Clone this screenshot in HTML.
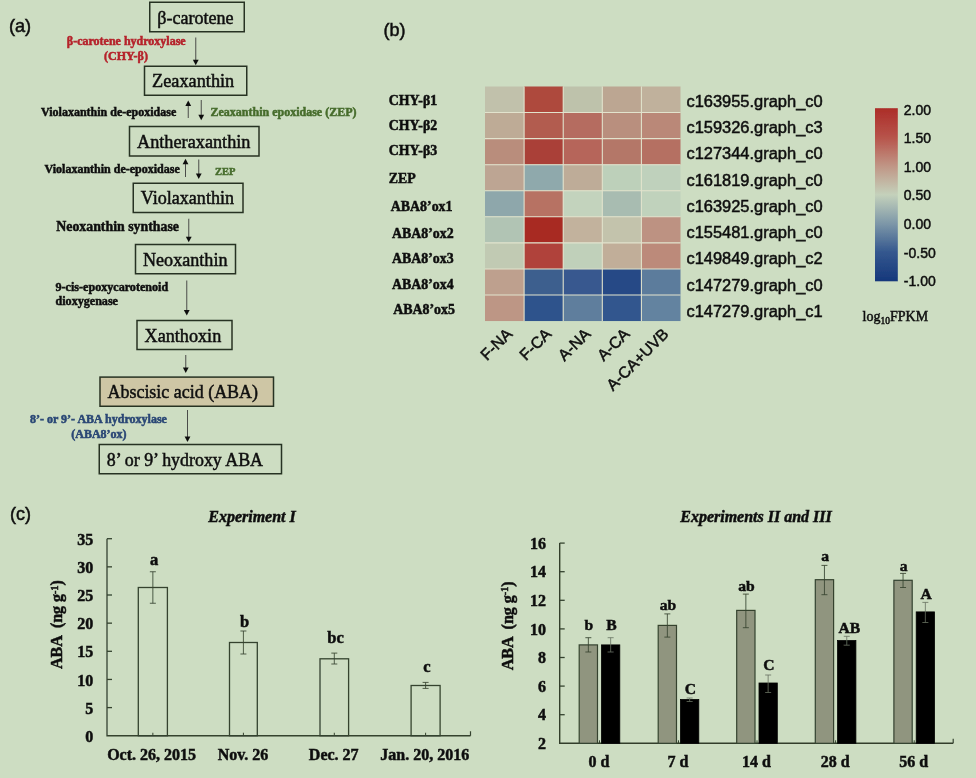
<!DOCTYPE html>
<html><head><meta charset="utf-8"><title>Figure</title>
<style>
html,body{margin:0;padding:0;background:#cdddc2;}
body{width:976px;height:778px;overflow:hidden;}
svg{display:block;}
.s{font-family:"Liberation Serif",serif;}
.h{font-family:"Liberation Sans",sans-serif;}
.b{font-weight:bold;stroke-width:0.5px;}
text{stroke-width:0.5px;paint-order:stroke;}
.i{font-style:italic;}
</style></head><body>
<svg width="976" height="778" viewBox="0 0 976 778">
<defs>
<linearGradient id="cb" x1="0" y1="0" x2="0" y2="1">
<stop offset="0" stop-color="#ac2d28"/>
<stop offset="0.167" stop-color="#b7534a"/>
<stop offset="0.333" stop-color="#c09585"/>
<stop offset="0.5" stop-color="#c4d1bb"/>
<stop offset="0.667" stop-color="#7d97a8"/>
<stop offset="0.833" stop-color="#34578e"/>
<stop offset="1" stop-color="#15377b"/>
</linearGradient>
<filter id="bl" x="-5%" y="-5%" width="110%" height="110%"><feGaussianBlur stdDeviation="0.45"/></filter>
</defs>
<rect width="976" height="778" fill="#cdddc2"/>
<g filter="url(#bl)">

<text transform="translate(8.9,32) scale(1,1.0)" font-size="18.2" class="h" fill="#111" stroke="#111" text-anchor="start" >(a)</text>
<rect x="149.75" y="2.25" width="94.50" height="29.50" fill="none" stroke="#283322" stroke-width="1.5"/>
<text transform="translate(157.25,23.6) scale(1,1.0)" font-size="18" class="s" fill="#111" stroke="#111" text-anchor="start" textLength="76.25" lengthAdjust="spacingAndGlyphs">β-carotene</text>
<rect x="144.5" y="66.25" width="102.25" height="29.00" fill="none" stroke="#283322" stroke-width="1.5"/>
<text transform="translate(152.0,87.35) scale(1,1.0)" font-size="18" class="s" fill="#111" stroke="#111" text-anchor="start" textLength="82.25" lengthAdjust="spacingAndGlyphs">Zeaxanthin</text>
<rect x="129.5" y="126.5" width="129.50" height="29.50" fill="none" stroke="#283322" stroke-width="1.5"/>
<text transform="translate(137.0,147.85) scale(1,1.0)" font-size="18" class="s" fill="#111" stroke="#111" text-anchor="start" textLength="113.5" lengthAdjust="spacingAndGlyphs">Antheraxanthin</text>
<rect x="133.25" y="183.25" width="109.75" height="29.25" fill="none" stroke="#283322" stroke-width="1.5"/>
<text transform="translate(140.75,204.475) scale(1,1.0)" font-size="18" class="s" fill="#111" stroke="#111" text-anchor="start" textLength="93.25" lengthAdjust="spacingAndGlyphs">Violaxanthin</text>
<rect x="135.5" y="244.5" width="100.00" height="29.25" fill="none" stroke="#283322" stroke-width="1.5"/>
<text transform="translate(143.0,265.725) scale(1,1.0)" font-size="18" class="s" fill="#111" stroke="#111" text-anchor="start" textLength="84.5" lengthAdjust="spacingAndGlyphs">Neoxanthin</text>
<rect x="137" y="320.5" width="95.00" height="29.00" fill="none" stroke="#283322" stroke-width="1.5"/>
<text transform="translate(144.5,341.6) scale(1,1.0)" font-size="18" class="s" fill="#111" stroke="#111" text-anchor="start" textLength="76.75" lengthAdjust="spacingAndGlyphs">Xanthoxin</text>
<rect x="100" y="377.1" width="173.50" height="29.15" fill="#cec6a5" stroke="#283322" stroke-width="1.5"/>
<text transform="translate(107.5,398.27500000000003) scale(1,1.0)" font-size="18" class="s" fill="#111" stroke="#111" text-anchor="start" textLength="150.5" lengthAdjust="spacingAndGlyphs">Abscisic acid (ABA)</text>
<rect x="99.25" y="444.5" width="182.25" height="29.25" fill="none" stroke="#283322" stroke-width="1.5"/>
<text transform="translate(106.75,465.725) scale(1,1.0)" font-size="18" class="s" fill="#111" stroke="#111" text-anchor="start" textLength="156.25" lengthAdjust="spacingAndGlyphs">8’ or 9’ hydroxy ABA</text>
<line x1="195.75" y1="37.5" x2="195.75" y2="60.8" stroke="#3c3c3c" stroke-width="0.9"/>
<polygon points="192.85,59.8 198.65,59.8 195.75,65.3" fill="#111"/>
<line x1="188.25" y1="105.0" x2="188.25" y2="118" stroke="#3c3c3c" stroke-width="0.9"/>
<polygon points="185.35,106.0 191.15,106.0 188.25,100.5" fill="#111"/>
<line x1="201.25" y1="100" x2="201.25" y2="115.8" stroke="#3c3c3c" stroke-width="0.9"/>
<polygon points="198.35,114.8 204.15,114.8 201.25,120.3" fill="#111"/>
<line x1="185.5" y1="163.25" x2="185.5" y2="177" stroke="#3c3c3c" stroke-width="0.9"/>
<polygon points="182.6,164.25 188.4,164.25 185.5,158.75" fill="#111"/>
<line x1="198.75" y1="159.5" x2="198.75" y2="174.5" stroke="#3c3c3c" stroke-width="0.9"/>
<polygon points="195.85,173.5 201.65,173.5 198.75,179" fill="#111"/>
<line x1="188.75" y1="218.75" x2="188.75" y2="237.7" stroke="#3c3c3c" stroke-width="0.9"/>
<polygon points="185.85,236.7 191.65,236.7 188.75,242.2" fill="#111"/>
<line x1="186.75" y1="280.5" x2="186.75" y2="311.1" stroke="#3c3c3c" stroke-width="0.9"/>
<polygon points="183.85,310.1 189.65,310.1 186.75,315.6" fill="#111"/>
<line x1="185.75" y1="355" x2="185.75" y2="368.5" stroke="#3c3c3c" stroke-width="0.9"/>
<polygon points="182.85,367.5 188.65,367.5 185.75,373" fill="#111"/>
<line x1="187.5" y1="410" x2="187.5" y2="437.4" stroke="#3c3c3c" stroke-width="0.9"/>
<polygon points="184.6,436.4 190.4,436.4 187.5,441.9" fill="#111"/>
<text transform="translate(126.25,44.5) scale(1,1.0)" font-size="12" class="s b" fill="#b5212a" stroke="#b5212a" text-anchor="middle" >β-carotene hydroxylase</text>
<text transform="translate(126,59.5) scale(1,1.0)" font-size="12" class="s b" fill="#b5212a" stroke="#b5212a" text-anchor="middle" >(CHY-β)</text>
<text transform="translate(41,115.5) scale(1,1.0)" font-size="12" class="s b" fill="#111" stroke="#111" text-anchor="start" >Violaxanthin de-epoxidase</text>
<text transform="translate(210.5,115.5) scale(1,1.0)" font-size="12" class="s b" fill="#466c2c" stroke="#466c2c" text-anchor="start" >Zeaxanthin epoxidase (ZEP)</text>
<text transform="translate(44.5,172.5) scale(1,1.0)" font-size="12" class="s b" fill="#111" stroke="#111" text-anchor="start" >Violaxanthin de-epoxidase</text>
<text transform="translate(215,175) scale(1,1.0)" font-size="10.5" class="s b" fill="#466c2c" stroke="#466c2c" text-anchor="start" >ZEP</text>
<text transform="translate(56.25,230.75) scale(1,1.0)" font-size="13.85" class="s b" fill="#111" stroke="#111" text-anchor="start" >Neoxanthin synthase</text>
<text transform="translate(55.5,291.2) scale(1,1.0)" font-size="12.1" class="s b" fill="#111" stroke="#111" text-anchor="start" >9-cis-epoxycarotenoid</text>
<text transform="translate(55.5,305.4) scale(1,1.0)" font-size="12.1" class="s b" fill="#111" stroke="#111" text-anchor="start" >dioxygenase</text>
<text transform="translate(30,423) scale(1,1.0)" font-size="12" class="s b" fill="#2a4775" stroke="#2a4775" text-anchor="start" >8’- or 9’- ABA hydroxylase</text>
<text transform="translate(71.25,438) scale(1,1.0)" font-size="12" class="s b" fill="#2a4775" stroke="#2a4775" text-anchor="start" >(ABA8’ox)</text>
<text transform="translate(383.5,36) scale(1,1.0)" font-size="18" class="h" fill="#111" stroke="#111" text-anchor="start" >(b)</text>
<rect x="485.00" y="86.50" width="39.10" height="26.06" fill="#c1c1ab"/>
<rect x="524.10" y="86.50" width="39.10" height="26.06" fill="#ae483d"/>
<rect x="563.20" y="86.50" width="39.10" height="26.06" fill="#bec2ab"/>
<rect x="602.30" y="86.50" width="39.10" height="26.06" fill="#bca692"/>
<rect x="641.40" y="86.50" width="39.10" height="26.06" fill="#c0b19c"/>
<rect x="485.00" y="112.56" width="39.10" height="26.06" fill="#beab96"/>
<rect x="524.10" y="112.56" width="39.10" height="26.06" fill="#b25b50"/>
<rect x="563.20" y="112.56" width="39.10" height="26.06" fill="#b56c60"/>
<rect x="602.30" y="112.56" width="39.10" height="26.06" fill="#b98f7e"/>
<rect x="641.40" y="112.56" width="39.10" height="26.06" fill="#ba8878"/>
<rect x="485.00" y="138.62" width="39.10" height="26.06" fill="#b98d7c"/>
<rect x="524.10" y="138.62" width="39.10" height="26.06" fill="#aa3f38"/>
<rect x="563.20" y="138.62" width="39.10" height="26.06" fill="#b6655a"/>
<rect x="602.30" y="138.62" width="39.10" height="26.06" fill="#b47767"/>
<rect x="641.40" y="138.62" width="39.10" height="26.06" fill="#b56f62"/>
<rect x="485.00" y="164.68" width="39.10" height="26.06" fill="#bda593"/>
<rect x="524.10" y="164.68" width="39.10" height="26.06" fill="#8fa9ac"/>
<rect x="563.20" y="164.68" width="39.10" height="26.06" fill="#beac98"/>
<rect x="602.30" y="164.68" width="39.10" height="26.06" fill="#bdd0ba"/>
<rect x="641.40" y="164.68" width="39.10" height="26.06" fill="#bfd1bc"/>
<rect x="485.00" y="190.74" width="39.10" height="26.06" fill="#8ea7ab"/>
<rect x="524.10" y="190.74" width="39.10" height="26.06" fill="#b77264"/>
<rect x="563.20" y="190.74" width="39.10" height="26.06" fill="#c3d3bd"/>
<rect x="602.30" y="190.74" width="39.10" height="26.06" fill="#a8bcb1"/>
<rect x="641.40" y="190.74" width="39.10" height="26.06" fill="#c0d2bc"/>
<rect x="485.00" y="216.80" width="39.10" height="26.06" fill="#b1c4b4"/>
<rect x="524.10" y="216.80" width="39.10" height="26.06" fill="#a82a24"/>
<rect x="563.20" y="216.80" width="39.10" height="26.06" fill="#c2b29d"/>
<rect x="602.30" y="216.80" width="39.10" height="26.06" fill="#c3c3ac"/>
<rect x="641.40" y="216.80" width="39.10" height="26.06" fill="#bd9282"/>
<rect x="485.00" y="242.86" width="39.10" height="26.06" fill="#c1cab3"/>
<rect x="524.10" y="242.86" width="39.10" height="26.06" fill="#b0433a"/>
<rect x="563.20" y="242.86" width="39.10" height="26.06" fill="#c0d0ba"/>
<rect x="602.30" y="242.86" width="39.10" height="26.06" fill="#c1ae99"/>
<rect x="641.40" y="242.86" width="39.10" height="26.06" fill="#bc8a7a"/>
<rect x="485.00" y="268.92" width="39.10" height="26.06" fill="#bea08e"/>
<rect x="524.10" y="268.92" width="39.10" height="26.06" fill="#3d5f8e"/>
<rect x="563.20" y="268.92" width="39.10" height="26.06" fill="#39598f"/>
<rect x="602.30" y="268.92" width="39.10" height="26.06" fill="#254a86"/>
<rect x="641.40" y="268.92" width="39.10" height="26.06" fill="#5c7b9c"/>
<rect x="485.00" y="294.98" width="39.10" height="26.06" fill="#bd9685"/>
<rect x="524.10" y="294.98" width="39.10" height="26.06" fill="#2f538c"/>
<rect x="563.20" y="294.98" width="39.10" height="26.06" fill="#5f7e9d"/>
<rect x="602.30" y="294.98" width="39.10" height="26.06" fill="#33568e"/>
<rect x="641.40" y="294.98" width="39.10" height="26.06" fill="#6483a0"/>
<line x1="485.0" y1="112.56" x2="680.50" y2="112.56" stroke="#e2e3cd" stroke-width="1.05"/>
<line x1="485.0" y1="138.62" x2="680.50" y2="138.62" stroke="#e2e3cd" stroke-width="1.05"/>
<line x1="485.0" y1="164.68" x2="680.50" y2="164.68" stroke="#e2e3cd" stroke-width="1.05"/>
<line x1="485.0" y1="190.74" x2="680.50" y2="190.74" stroke="#e2e3cd" stroke-width="1.05"/>
<line x1="485.0" y1="216.80" x2="680.50" y2="216.80" stroke="#e2e3cd" stroke-width="1.05"/>
<line x1="485.0" y1="242.86" x2="680.50" y2="242.86" stroke="#e2e3cd" stroke-width="1.05"/>
<line x1="485.0" y1="268.92" x2="680.50" y2="268.92" stroke="#e2e3cd" stroke-width="1.05"/>
<line x1="485.0" y1="294.98" x2="680.50" y2="294.98" stroke="#e2e3cd" stroke-width="1.05"/>
<line x1="524.10" y1="86.5" x2="524.10" y2="321.04" stroke="#e2e3cd" stroke-width="1.05"/>
<line x1="563.20" y1="86.5" x2="563.20" y2="321.04" stroke="#e2e3cd" stroke-width="1.05"/>
<line x1="602.30" y1="86.5" x2="602.30" y2="321.04" stroke="#e2e3cd" stroke-width="1.05"/>
<line x1="641.40" y1="86.5" x2="641.40" y2="321.04" stroke="#e2e3cd" stroke-width="1.05"/>
<text transform="translate(388.8,104.7) scale(1,1.09)" font-size="13.9" class="s b" fill="#111" stroke="#111" text-anchor="start" >CHY-β1</text>
<text transform="translate(388.8,130.4) scale(1,1.09)" font-size="13.9" class="s b" fill="#111" stroke="#111" text-anchor="start" >CHY-β2</text>
<text transform="translate(388.8,155.0) scale(1,1.09)" font-size="13.9" class="s b" fill="#111" stroke="#111" text-anchor="start" >CHY-β3</text>
<text transform="translate(388.8,182.8) scale(1,1.09)" font-size="13.9" class="s b" fill="#111" stroke="#111" text-anchor="start" >ZEP</text>
<text transform="translate(390.8,210.9) scale(1,1.09)" font-size="13.9" class="s b" fill="#111" stroke="#111" text-anchor="start" >ABA8’ox1</text>
<text transform="translate(392,238.3) scale(1,1.09)" font-size="13.9" class="s b" fill="#111" stroke="#111" text-anchor="start" >ABA8’ox2</text>
<text transform="translate(392,262.8) scale(1,1.09)" font-size="13.9" class="s b" fill="#111" stroke="#111" text-anchor="start" >ABA8’ox3</text>
<text transform="translate(392,288.90000000000003) scale(1,1.09)" font-size="13.9" class="s b" fill="#111" stroke="#111" text-anchor="start" >ABA8’ox4</text>
<text transform="translate(393.2,314.2) scale(1,1.09)" font-size="13.9" class="s b" fill="#111" stroke="#111" text-anchor="start" >ABA8’ox5</text>
<text transform="translate(686.4,107.0) scale(1,1.0)" font-size="15.8" class="h" fill="#111" stroke="#111" text-anchor="start" textLength="136.3" lengthAdjust="spacingAndGlyphs">c163955.graph_c0</text>
<text transform="translate(686.4,133.22) scale(1,1.0)" font-size="15.8" class="h" fill="#111" stroke="#111" text-anchor="start" textLength="136.3" lengthAdjust="spacingAndGlyphs">c159326.graph_c3</text>
<text transform="translate(686.4,159.44) scale(1,1.0)" font-size="15.8" class="h" fill="#111" stroke="#111" text-anchor="start" textLength="136.3" lengthAdjust="spacingAndGlyphs">c127344.graph_c0</text>
<text transform="translate(686.4,185.66) scale(1,1.0)" font-size="15.8" class="h" fill="#111" stroke="#111" text-anchor="start" textLength="136.3" lengthAdjust="spacingAndGlyphs">c161819.graph_c0</text>
<text transform="translate(686.4,211.88) scale(1,1.0)" font-size="15.8" class="h" fill="#111" stroke="#111" text-anchor="start" textLength="136.3" lengthAdjust="spacingAndGlyphs">c163925.graph_c0</text>
<text transform="translate(686.4,238.1) scale(1,1.0)" font-size="15.8" class="h" fill="#111" stroke="#111" text-anchor="start" textLength="136.3" lengthAdjust="spacingAndGlyphs">c155481.graph_c0</text>
<text transform="translate(686.4,264.32) scale(1,1.0)" font-size="15.8" class="h" fill="#111" stroke="#111" text-anchor="start" textLength="136.3" lengthAdjust="spacingAndGlyphs">c149849.graph_c2</text>
<text transform="translate(686.4,290.53999999999996) scale(1,1.0)" font-size="15.8" class="h" fill="#111" stroke="#111" text-anchor="start" textLength="136.3" lengthAdjust="spacingAndGlyphs">c147279.graph_c0</text>
<text transform="translate(686.4,316.76) scale(1,1.0)" font-size="15.8" class="h" fill="#111" stroke="#111" text-anchor="start" textLength="136.3" lengthAdjust="spacingAndGlyphs">c147279.graph_c1</text>
<text transform="translate(513.2,335) rotate(-45)" font-size="15.9" class="h" fill="#111" stroke="#111" text-anchor="end">F-NA</text>
<text transform="translate(552.3,335) rotate(-45)" font-size="15.9" class="h" fill="#111" stroke="#111" text-anchor="end">F-CA</text>
<text transform="translate(591.4,335) rotate(-45)" font-size="15.9" class="h" fill="#111" stroke="#111" text-anchor="end">A-NA</text>
<text transform="translate(630.5,335) rotate(-45)" font-size="15.9" class="h" fill="#111" stroke="#111" text-anchor="end">A-CA</text>
<text transform="translate(669.6,335) rotate(-45)" font-size="15.9" class="h" fill="#111" stroke="#111" text-anchor="end">A-CA+UVB</text>
<rect x="875" y="108.2" width="22.8" height="173.1" fill="url(#cb)"/>
<text transform="translate(903.8,114.6) scale(1,1.0)" font-size="14" class="h" fill="#111" stroke="#111" text-anchor="start" >2.00</text>
<text transform="translate(903.8,143.23) scale(1,1.0)" font-size="14" class="h" fill="#111" stroke="#111" text-anchor="start" >1.50</text>
<text transform="translate(903.8,171.85999999999999) scale(1,1.0)" font-size="14" class="h" fill="#111" stroke="#111" text-anchor="start" >1.00</text>
<text transform="translate(903.8,200.49) scale(1,1.0)" font-size="14" class="h" fill="#111" stroke="#111" text-anchor="start" >0.50</text>
<text transform="translate(903.8,229.12) scale(1,1.0)" font-size="14" class="h" fill="#111" stroke="#111" text-anchor="start" >0.00</text>
<text transform="translate(903.8,257.75) scale(1,1.0)" font-size="14" class="h" fill="#111" stroke="#111" text-anchor="start" >-0.50</text>
<text transform="translate(903.8,286.38) scale(1,1.0)" font-size="14" class="h" fill="#111" stroke="#111" text-anchor="start" >-1.00</text>
<text x="862.6" y="320.7" font-size="14" class="s" fill="#111" stroke="#111">log<tspan font-size="9.5" dy="3">10</tspan><tspan dy="-3">FPKM</tspan></text>
<text transform="translate(10,520) scale(1,1.0)" font-size="18" class="h" fill="#111" stroke="#111" text-anchor="start" >(c)</text>
<polyline points="107.0,538.75 107.0,735.75 470.5,735.75" fill="none" stroke="#34432f" stroke-width="1.3"/>
<text transform="translate(93.2,741.85) scale(1,1.0)" font-size="16" class="s b" fill="#111" stroke="#111" text-anchor="end" >0</text>
<line x1="107.0" y1="707.60" x2="112.0" y2="707.60" stroke="#34432f" stroke-width="1.3"/>
<text transform="translate(93.2,713.70) scale(1,1.0)" font-size="16" class="s b" fill="#111" stroke="#111" text-anchor="end" >5</text>
<line x1="107.0" y1="679.45" x2="112.0" y2="679.45" stroke="#34432f" stroke-width="1.3"/>
<text transform="translate(93.2,685.55) scale(1,1.0)" font-size="16" class="s b" fill="#111" stroke="#111" text-anchor="end" >10</text>
<line x1="107.0" y1="651.30" x2="112.0" y2="651.30" stroke="#34432f" stroke-width="1.3"/>
<text transform="translate(93.2,657.40) scale(1,1.0)" font-size="16" class="s b" fill="#111" stroke="#111" text-anchor="end" >15</text>
<line x1="107.0" y1="623.15" x2="112.0" y2="623.15" stroke="#34432f" stroke-width="1.3"/>
<text transform="translate(93.2,629.25) scale(1,1.0)" font-size="16" class="s b" fill="#111" stroke="#111" text-anchor="end" >20</text>
<line x1="107.0" y1="595.00" x2="112.0" y2="595.00" stroke="#34432f" stroke-width="1.3"/>
<text transform="translate(93.2,601.10) scale(1,1.0)" font-size="16" class="s b" fill="#111" stroke="#111" text-anchor="end" >25</text>
<line x1="107.0" y1="566.85" x2="112.0" y2="566.85" stroke="#34432f" stroke-width="1.3"/>
<text transform="translate(93.2,572.95) scale(1,1.0)" font-size="16" class="s b" fill="#111" stroke="#111" text-anchor="end" >30</text>
<line x1="107.0" y1="538.70" x2="112.0" y2="538.70" stroke="#34432f" stroke-width="1.3"/>
<text transform="translate(93.2,544.80) scale(1,1.0)" font-size="16" class="s b" fill="#111" stroke="#111" text-anchor="end" >35</text>
<line x1="470.5" y1="735.75" x2="470.5" y2="731.25" stroke="#34432f" stroke-width="1.2"/>
<rect x="138.3" y="587.5" width="29.10" height="148.25" fill="none" stroke="#34432f" stroke-width="1.3"/>
<path d="M152.85000000000002,571.75V603.25M149.85000000000002,571.75h6M149.85000000000002,603.25h6" stroke="#36432f" stroke-width="0.85" fill="none"/>
<line x1="152.85000000000002" y1="735.75" x2="152.85000000000002" y2="732.75" stroke="#34432f" stroke-width="1"/>
<text transform="translate(154.05,564.5) scale(1,1.0)" font-size="16.5" class="s b" fill="#111" stroke="#111" text-anchor="middle" >a</text>
<rect x="229.5" y="642.5" width="27.80" height="93.25" fill="none" stroke="#34432f" stroke-width="1.3"/>
<path d="M243.4,631V654M240.4,631h6M240.4,654h6" stroke="#36432f" stroke-width="0.85" fill="none"/>
<line x1="243.4" y1="735.75" x2="243.4" y2="732.75" stroke="#34432f" stroke-width="1"/>
<text transform="translate(244.6,626.7) scale(1,1.0)" font-size="16.5" class="s b" fill="#111" stroke="#111" text-anchor="middle" >b</text>
<rect x="320" y="658.8" width="28.60" height="76.95" fill="none" stroke="#34432f" stroke-width="1.3"/>
<path d="M334.3,653.1V664M331.3,653.1h6M331.3,664h6" stroke="#36432f" stroke-width="0.85" fill="none"/>
<line x1="334.3" y1="735.75" x2="334.3" y2="732.75" stroke="#34432f" stroke-width="1"/>
<text transform="translate(335.5,643) scale(1,1.0)" font-size="16.5" class="s b" fill="#111" stroke="#111" text-anchor="middle" >bc</text>
<rect x="411.1" y="685.5" width="29.00" height="50.25" fill="none" stroke="#34432f" stroke-width="1.3"/>
<path d="M425.6,682.4V688.4M422.6,682.4h6M422.6,688.4h6" stroke="#36432f" stroke-width="0.85" fill="none"/>
<line x1="425.6" y1="735.75" x2="425.6" y2="732.75" stroke="#34432f" stroke-width="1"/>
<text transform="translate(426.8,672.3) scale(1,1.0)" font-size="16.5" class="s b" fill="#111" stroke="#111" text-anchor="middle" >c</text>
<text transform="translate(151.6,760.3) scale(1,1.0)" font-size="16" class="s b" fill="#111" stroke="#111" text-anchor="middle" >Oct. 26, 2015</text>
<text transform="translate(243,760.3) scale(1,1.0)" font-size="16" class="s b" fill="#111" stroke="#111" text-anchor="middle" >Nov. 26</text>
<text transform="translate(333.7,760.3) scale(1,1.0)" font-size="16" class="s b" fill="#111" stroke="#111" text-anchor="middle" >Dec. 27</text>
<text transform="translate(424.8,760.3) scale(1,1.0)" font-size="16" class="s b" fill="#111" stroke="#111" text-anchor="middle" >Jan. 20, 2016</text>
<text transform="translate(252,521.5) scale(1,1.0)" font-size="16" class="s b i" fill="#111" stroke="#111" text-anchor="middle" >Experiment I</text>
<text transform="translate(62.4,669) rotate(-90)" font-size="16" class="s b" fill="#111" stroke="#111" xml:space="preserve">ABA  (ng g<tspan font-size="10" dy="-4.8">-1</tspan><tspan dy="4.8">)</tspan></text>
<polyline points="559.7,543 559.7,743.3 953.2,743.3" fill="none" stroke="#303d2c" stroke-width="1.4"/>
<text transform="translate(546,748.90) scale(1,1.0)" font-size="16" class="s b" fill="#111" stroke="#111" text-anchor="end" >2</text>
<line x1="559.7" y1="714.70" x2="564.7" y2="714.70" stroke="#34432f" stroke-width="1.3"/>
<text transform="translate(546,720.30) scale(1,1.0)" font-size="16" class="s b" fill="#111" stroke="#111" text-anchor="end" >4</text>
<line x1="559.7" y1="686.10" x2="564.7" y2="686.10" stroke="#34432f" stroke-width="1.3"/>
<text transform="translate(546,691.70) scale(1,1.0)" font-size="16" class="s b" fill="#111" stroke="#111" text-anchor="end" >6</text>
<line x1="559.7" y1="657.50" x2="564.7" y2="657.50" stroke="#34432f" stroke-width="1.3"/>
<text transform="translate(546,663.10) scale(1,1.0)" font-size="16" class="s b" fill="#111" stroke="#111" text-anchor="end" >8</text>
<line x1="559.7" y1="628.90" x2="564.7" y2="628.90" stroke="#34432f" stroke-width="1.3"/>
<text transform="translate(546,634.50) scale(1,1.0)" font-size="16" class="s b" fill="#111" stroke="#111" text-anchor="end" >10</text>
<line x1="559.7" y1="600.30" x2="564.7" y2="600.30" stroke="#34432f" stroke-width="1.3"/>
<text transform="translate(546,605.90) scale(1,1.0)" font-size="16" class="s b" fill="#111" stroke="#111" text-anchor="end" >12</text>
<line x1="559.7" y1="571.70" x2="564.7" y2="571.70" stroke="#34432f" stroke-width="1.3"/>
<text transform="translate(546,577.30) scale(1,1.0)" font-size="16" class="s b" fill="#111" stroke="#111" text-anchor="end" >14</text>
<line x1="559.7" y1="543.10" x2="564.7" y2="543.10" stroke="#34432f" stroke-width="1.3"/>
<text transform="translate(546,548.70) scale(1,1.0)" font-size="16" class="s b" fill="#111" stroke="#111" text-anchor="end" >16</text>
<line x1="953.2" y1="743.3" x2="953.2" y2="738.8" stroke="#34432f" stroke-width="1.2"/>
<rect x="579.2" y="644.9" width="18.30" height="98.40" fill="#90957f" stroke="#34432f" stroke-width="1.2"/>
<rect x="601.5" y="644.9" width="18.30" height="98.40" fill="#050505" stroke="#050505" stroke-width="0.8"/>
<path d="M588.35,637.7V652M585.35,637.7h6M585.35,652h6" stroke="#36432f" stroke-width="0.85" fill="none"/>
<text transform="translate(588.95,629.7) scale(1,1.0)" font-size="15.6" class="s b" fill="#111" stroke="#111" text-anchor="middle" >b</text>
<path d="M610.65,637.7V652M607.65,637.7h6M607.65,652h6" stroke="#66705f" stroke-width="0.8" fill="none"/>
<text transform="translate(611.4499999999999,629.7) scale(1,1.0)" font-size="15.6" class="s b" fill="#111" stroke="#111" text-anchor="middle" >B</text>
<line x1="599.5" y1="743.3" x2="599.5" y2="740.3" stroke="#34432f" stroke-width="1"/>
<text transform="translate(599.0,767.4) scale(1,1.0)" font-size="16" class="s b" fill="#111" stroke="#111" text-anchor="middle" >0 d</text>
<rect x="658.2" y="625.4" width="18.30" height="117.90" fill="#90957f" stroke="#34432f" stroke-width="1.2"/>
<rect x="680.5" y="699.5" width="18.30" height="43.80" fill="#050505" stroke="#050505" stroke-width="0.8"/>
<path d="M667.35,613.9V637.1M664.35,613.9h6M664.35,637.1h6" stroke="#36432f" stroke-width="0.85" fill="none"/>
<text transform="translate(667.95,609.6) scale(1,1.0)" font-size="15.6" class="s b" fill="#111" stroke="#111" text-anchor="middle" >ab</text>
<path d="M689.65,698V701.5M686.65,698h6M686.65,701.5h6" stroke="#66705f" stroke-width="0.8" fill="none"/>
<text transform="translate(690.4499999999999,693.5) scale(1,1.0)" font-size="15.6" class="s b" fill="#111" stroke="#111" text-anchor="middle" >C</text>
<line x1="678.5" y1="743.3" x2="678.5" y2="740.3" stroke="#34432f" stroke-width="1"/>
<text transform="translate(678.0,767.4) scale(1,1.0)" font-size="16" class="s b" fill="#111" stroke="#111" text-anchor="middle" >7 d</text>
<rect x="736.7" y="610.4" width="18.30" height="132.90" fill="#90957f" stroke="#34432f" stroke-width="1.2"/>
<rect x="759.0" y="683" width="18.30" height="60.30" fill="#050505" stroke="#050505" stroke-width="0.8"/>
<path d="M745.85,594.1V627.7M742.85,594.1h6M742.85,627.7h6" stroke="#36432f" stroke-width="0.85" fill="none"/>
<text transform="translate(746.45,591.0) scale(1,1.0)" font-size="15.6" class="s b" fill="#111" stroke="#111" text-anchor="middle" >ab</text>
<path d="M768.15,675V692.5M765.15,675h6M765.15,692.5h6" stroke="#66705f" stroke-width="0.8" fill="none"/>
<text transform="translate(768.9499999999999,669.8000000000001) scale(1,1.0)" font-size="15.6" class="s b" fill="#111" stroke="#111" text-anchor="middle" >C</text>
<line x1="757.0" y1="743.3" x2="757.0" y2="740.3" stroke="#34432f" stroke-width="1"/>
<text transform="translate(756.5,767.4) scale(1,1.0)" font-size="16" class="s b" fill="#111" stroke="#111" text-anchor="middle" >14 d</text>
<rect x="815.3" y="579.7" width="18.30" height="163.60" fill="#90957f" stroke="#34432f" stroke-width="1.2"/>
<rect x="837.5999999999999" y="640.6" width="18.30" height="102.70" fill="#050505" stroke="#050505" stroke-width="0.8"/>
<path d="M824.4499999999999,565.4V594.7M821.4499999999999,565.4h6M821.4499999999999,594.7h6" stroke="#36432f" stroke-width="0.85" fill="none"/>
<text transform="translate(825.05,560.8000000000001) scale(1,1.0)" font-size="15.6" class="s b" fill="#111" stroke="#111" text-anchor="middle" >a</text>
<path d="M846.7499999999999,636.3V645.2M843.7499999999999,636.3h6M843.7499999999999,645.2h6" stroke="#66705f" stroke-width="0.8" fill="none"/>
<text transform="translate(849.2499999999999,633.4) scale(1,1.0)" font-size="15.6" class="s b" fill="#111" stroke="#111" text-anchor="middle" >AB</text>
<line x1="835.5999999999999" y1="743.3" x2="835.5999999999999" y2="740.3" stroke="#34432f" stroke-width="1"/>
<text transform="translate(835.0999999999999,767.4) scale(1,1.0)" font-size="16" class="s b" fill="#111" stroke="#111" text-anchor="middle" >28 d</text>
<rect x="893.9" y="580.3" width="18.30" height="163.00" fill="#90957f" stroke="#34432f" stroke-width="1.2"/>
<rect x="916.1999999999999" y="611.9" width="18.30" height="131.40" fill="#050505" stroke="#050505" stroke-width="0.8"/>
<path d="M903.05,573.4V587.5M900.05,573.4h6M900.05,587.5h6" stroke="#36432f" stroke-width="0.85" fill="none"/>
<text transform="translate(903.65,570.9) scale(1,1.0)" font-size="15.6" class="s b" fill="#111" stroke="#111" text-anchor="middle" >a</text>
<path d="M925.3499999999999,602.4V622.5M922.3499999999999,602.4h6M922.3499999999999,622.5h6" stroke="#66705f" stroke-width="0.8" fill="none"/>
<text transform="translate(926.1499999999999,598.7) scale(1,1.0)" font-size="15.6" class="s b" fill="#111" stroke="#111" text-anchor="middle" >A</text>
<line x1="914.1999999999999" y1="743.3" x2="914.1999999999999" y2="740.3" stroke="#34432f" stroke-width="1"/>
<text transform="translate(913.6999999999999,767.4) scale(1,1.0)" font-size="16" class="s b" fill="#111" stroke="#111" text-anchor="middle" >56 d</text>
<text transform="translate(756,521.5) scale(1,1.0)" font-size="16" class="s b i" fill="#111" stroke="#111" text-anchor="middle" >Experiments II and III</text>
<text transform="translate(512.9,670.3) rotate(-90)" font-size="16" class="s b" fill="#111" stroke="#111" xml:space="preserve">ABA  (ng g<tspan font-size="10" dy="-4.8">-1</tspan><tspan dy="4.8">)</tspan></text>
</g></svg></body></html>
